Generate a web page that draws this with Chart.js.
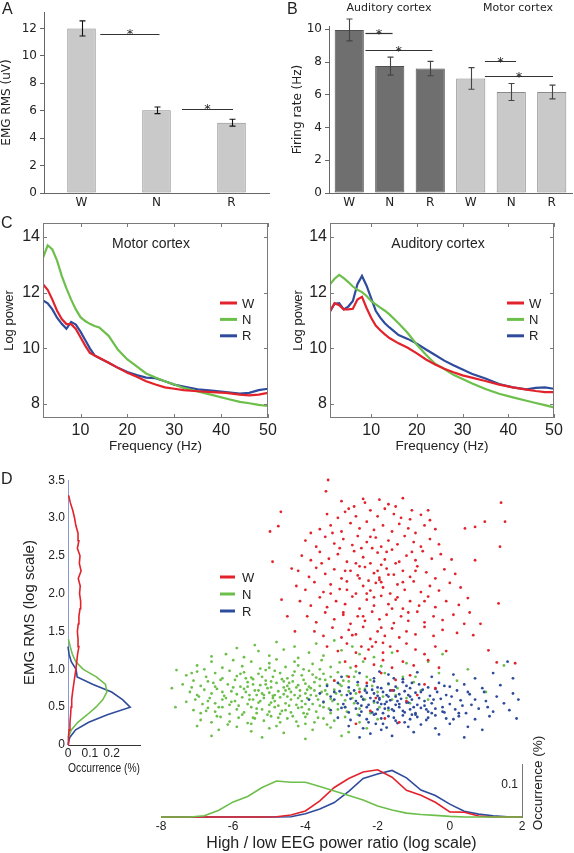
<!DOCTYPE html>
<html><head><meta charset="utf-8">
<script src="https://cdn.jsdelivr.net/npm/chart.js@4.4.1/dist/chart.umd.min.js"></script>
<style>
html,body{margin:0;padding:0;background:#fff;}
#page{position:relative;width:574px;height:853px;overflow:hidden;background:#fff;font-family:"Liberation Sans",Arial,sans-serif;color:#222;}
canvas{position:absolute;}
.t{position:absolute;white-space:nowrap;line-height:1;}
</style></head><body><div id="page">
<canvas id="cA" width="285" height="215" style="left:0;top:0"></canvas>
<canvas id="cB" width="289" height="215" style="left:285px;top:0"></canvas>
<canvas id="cC1" width="287" height="260" style="left:0;top:210px"></canvas>
<canvas id="cC2" width="287" height="260" style="left:287px;top:210px"></canvas>
<canvas id="cDL" width="170" height="330" style="left:0;top:470px"></canvas>
<canvas id="cDS" width="424" height="285" style="left:150px;top:470px"></canvas>
<canvas id="cDB" width="424" height="103" style="left:150px;top:750px"></canvas>
<div class="t" style="left:2px;top:1px;font-size:16px">A</div>
<div class="t" style="left:287px;top:1px;font-size:16px">B</div>
<div class="t" style="left:1px;top:215px;font-size:16px">C</div>
<div class="t" style="left:1px;top:471px;font-size:16px">D</div>
<div class="t" style="left:329px;top:1px;width:120px;text-align:center;font:11px 'DejaVu Sans',sans-serif">Auditory cortex</div>
<div class="t" style="left:458px;top:1px;width:120px;text-align:center;font:11px 'DejaVu Sans',sans-serif">Motor cortex</div>
<div class="t" style="left:91px;top:236px;width:120px;text-align:center;font-size:14px">Motor cortex</div>
<div class="t" style="left:378px;top:236px;width:120px;text-align:center;font-size:14px">Auditory cortex</div>
<div class="t" style="left:488px;top:775px;width:100px;height:16px;line-height:16px;text-align:center;font-size:13.5px;transform:rotate(-90deg);">Occurrence (%)</div>
</div>
<script>
// ---------- DATA ----------
const stateLabels = ['W', 'N', 'R'];
const emgMean = [12.0, 6.03, 5.13];
const emgErr = [0.55, 0.24, 0.25];
const emgSig = [[0.25, 1.04, 11.6], [1.34, 2.02, 6.1]];

const rateLabels = ['W', 'N', 'R', 'W', 'N', 'R'];
const rateGroup = ['Auditory', 'Auditory', 'Auditory', 'Motor', 'Motor', 'Motor'];
const rateMean = [9.96, 7.75, 7.6, 7.0, 6.17, 6.17];
const rateErr = [0.67, 0.55, 0.44, 0.66, 0.52, 0.42];
const rateSig = [[0.4, 1.07, 9.78], [0.4, 2.05, 8.72], [3.35, 4.12, 8.06], [3.35, 5.03, 7.14]];

const motorFreq = [2,3,4,5,6,7,8,9,10,11,12,13,14,16,18,20,22,24,26,28,30,32,35,38,41,44,46,48,50];
const motorW = [12.3,12.1,11.75,11.35,11.05,10.87,10.87,10.7,10.4,10.1,9.84,9.74,9.66,9.48,9.3,9.12,8.98,8.82,8.7,8.6,8.55,8.5,8.46,8.43,8.4,8.34,8.31,8.34,8.4];
const motorN = [13.25,13.7,13.55,13.15,12.6,12.15,11.75,11.4,11.12,10.98,10.88,10.8,10.75,10.45,9.95,9.6,9.35,9.1,8.95,8.82,8.7,8.58,8.45,8.33,8.2,8.08,8.03,7.97,7.93];
const motorR = [11.72,11.62,11.4,11.1,10.88,10.7,10.95,10.85,10.6,10.3,10.0,9.75,9.65,9.48,9.3,9.15,9.04,8.95,8.93,8.82,8.7,8.63,8.53,8.48,8.43,8.38,8.4,8.5,8.55];

const audFreq = [1,2,3,4,5,6,7,8,9,10,11,12,13,14,16,18,20,22,24,26,28,30,32,35,38,41,44,46,48,50];
const audW = [11.33,11.62,11.55,11.4,11.4,11.42,11.75,11.85,11.45,11.1,10.82,10.65,10.5,10.37,10.18,10.02,9.82,9.6,9.42,9.27,9.14,9.03,8.95,8.83,8.7,8.6,8.52,8.47,8.43,8.43];
const audN = [12.3,12.5,12.64,12.52,12.38,12.22,12.1,12.02,11.88,11.7,11.58,11.46,11.35,11.22,10.9,10.55,10.13,9.77,9.45,9.26,9.05,8.9,8.75,8.54,8.37,8.24,8.12,8.04,7.96,7.88];
const audR = [11.33,11.6,11.62,11.4,11.5,11.7,12.3,12.6,12.25,11.8,11.35,11.1,10.9,10.75,10.48,10.34,10.17,9.96,9.76,9.56,9.39,9.24,9.09,8.92,8.72,8.6,8.53,8.58,8.6,8.55];

const emgBins = [0,0.1,0.2,0.3,0.4,0.5,0.6,0.7,0.8,0.9,1.0,1.1,1.2,1.3,1.4,1.5,1.6,1.7,1.8,1.9,2.0,2.1,2.2,2.3,2.4,2.5,2.6,2.7,2.8,2.9,3.0,3.1,3.2,3.3,3.4];
const emgOccW = [0,0.002,0.005,0.009,0.012,0.014,0.017,0.021,0.026,0.031,0.036,0.04,0.044,0.05,0.046,0.043,0.047,0.05,0.055,0.058,0.053,0.056,0.047,0.06,0.052,0.055,0.043,0.05,0.046,0.036,0.03,0.022,0.011,0.003,null];
const emgOccN = [null,0.001,0.015,0.045,0.088,0.128,0.16,0.178,0.172,0.13,0.07,0.036,0.02,0.01,0.002,null,null,null,null,null,null,null,null,null,null,null,null,null,null,null,null,null,null,null,null];
const emgOccR = [0,0.008,0.035,0.095,0.18,0.285,0.25,0.2,0.115,0.042,0.037,0.015,0.005,0,null,null,null,null,null,null,null,null,null,null,null,null,null,null,null,null,null,null,null,null,null];

const ratioBins = [-8,-7.6,-7.2,-6.8,-6.4,-6,-5.6,-5.2,-4.8,-4.4,-4,-3.6,-3.2,-2.8,-2.4,-2,-1.6,-1.2,-0.8,-0.4,0,0.4,0.8,1.2,1.6,2];
const ratioOccN = [0,0,0,0.004,0.021,0.047,0.064,0.092,0.112,0.108,0.108,0.095,0.081,0.067,0.053,0.034,0.022,0.012,0.008,0.005,0.002,0,0,0,0,0];
const ratioOccW = [0,0,0,0,0,0,0,0,0.001,0.006,0.019,0.05,0.092,0.12,0.14,0.147,0.124,0.083,0.068,0.046,0.016,0.015,0.003,0,0,0];
const ratioOccR = [0,0,0,0,0,0,0,0,0,0.001,0.01,0.025,0.045,0.08,0.12,0.134,0.145,0.122,0.084,0.067,0.04,0.018,0.009,0.004,0.001,0];

const scatterW = [
[-3.0,3.22],[-2.4,3.25],[-2.35,3.2],[-1.95,3.24],[-1.7,3.18],[-1.3,3.26],[-2.8,3.12],[-1.05,3.1],
[-3.4,3.05],[-3.1,3.0],[-2.9,3.08],[-2.6,3.02],[-2.2,3.1],[-2.0,3.02],[-1.8,3.12],[-1.55,3.05],[-1.35,3.0],[-1.1,2.98],[-0.8,3.04],[-0.6,3.1],[-0.55,2.97],
[-3.6,2.85],[-3.3,2.9],[-3.0,2.82],[-2.75,2.93],[-2.5,2.86],[-2.3,2.95],[-2.1,2.84],[-1.85,2.9],[-1.6,2.82],[-1.4,2.92],[-1.15,2.86],[-0.95,2.8],[-0.7,2.9],[-0.4,2.85],[-3.85,2.8],
[-4.0,2.7],[-3.7,2.62],[-3.45,2.75],[-3.2,2.66],[-2.95,2.72],[-2.7,2.64],[-2.55,2.76],[-2.3,2.68],[-2.05,2.74],[-1.9,2.62],[-1.7,2.7],[-1.45,2.65],[-1.25,2.76],[-1.0,2.68],[-0.8,2.62],[-0.55,2.72],[-0.3,2.65],[-3.05,2.6],[-2.15,2.6],
[-4.1,2.5],[-3.85,2.44],[-3.6,2.55],[-3.35,2.46],[-3.1,2.52],[-2.85,2.42],[-2.65,2.56],[-2.4,2.48],[-2.2,2.4],[-2.0,2.54],[-1.8,2.45],[-1.6,2.58],[-1.4,2.42],[-1.2,2.5],[-0.95,2.44],[-0.75,2.56],[-0.5,2.46],[-0.25,2.52],[0.05,2.45],[-2.5,2.36],[-1.9,2.38],
[-4.2,2.3],[-3.9,2.22],[-3.7,2.34],[-3.45,2.26],[-3.2,2.32],[-3.0,2.2],[-2.75,2.3],[-2.55,2.24],[-2.35,2.35],[-2.1,2.27],[-1.95,2.21],[-1.75,2.33],[-1.55,2.25],[-1.3,2.3],[-1.1,2.22],[-0.9,2.36],[-0.65,2.28],[-0.4,2.2],[-0.15,2.32],[0.15,2.26],[-2.0,2.3],
[-4.25,2.1],[-4.0,2.05],[-3.75,2.15],[-3.5,2.02],[-3.3,2.12],[-3.05,2.06],[-2.85,2.16],[-2.6,2.0],[-2.4,2.1],[-2.2,2.04],[-2.05,2.14],[-1.85,2.08],[-1.65,2.0],[-1.45,2.12],[-1.25,2.05],[-1.0,2.16],[-0.8,2.02],[-0.55,2.1],[-0.3,2.04],[0.0,2.14],[0.3,2.08],[-1.95,2.18],[-2.25,2.17],
[-4.15,1.9],[-3.85,1.84],[-3.6,1.95],[-3.4,1.82],[-3.15,1.9],[-2.9,1.86],[-2.7,1.96],[-2.5,1.8],[-2.3,1.92],[-2.1,1.84],[-1.9,1.97],[-1.7,1.86],[-1.5,1.92],[-1.3,1.8],[-1.1,1.9],[-0.85,1.84],[-0.6,1.96],[-0.4,1.82],[-0.1,1.9],[0.25,1.85],[0.5,1.94],
[-3.95,1.7],[-3.7,1.62],[-3.45,1.75],[-3.2,1.66],[-2.95,1.72],[-2.75,1.6],[-2.55,1.7],[-2.35,1.64],[-2.15,1.76],[-1.95,1.66],[-1.75,1.72],[-1.55,1.61],[-1.35,1.7],[-1.15,1.64],[-0.9,1.76],[-0.7,1.62],[-0.45,1.7],[-0.2,1.65],[0.1,1.72],[0.4,1.6],
[-3.75,1.5],[-3.5,1.44],[-3.25,1.55],[-3.0,1.42],[-2.8,1.52],[-2.6,1.46],[-2.4,1.56],[-2.2,1.4],[-2.0,1.5],[-1.8,1.44],[-1.6,1.54],[-1.4,1.42],[-1.2,1.5],[-0.95,1.46],[-0.7,1.56],[-0.45,1.44],[-0.2,1.52],[0.2,1.48],
[-3.4,1.3],[-3.1,1.24],[-2.85,1.34],[-2.6,1.22],[-2.45,1.3],[-2.25,1.26],[-2.05,1.36],[-1.85,1.22],[-1.65,1.3],[-1.45,1.24],[-1.2,1.34],[-0.95,1.26],[-0.7,1.2],[-0.4,1.3],[-0.1,1.24],
[-2.9,1.1],[-2.6,1.04],[-2.35,1.14],[-2.1,1.06],[-1.85,1.12],[-1.6,1.02],[-1.3,1.1],[-1.0,1.05],[-0.6,1.12],[-0.3,1.02],
[-2.8,0.9],[-2.3,0.82],[-1.9,0.95],[-1.5,0.86],[-1.1,0.92],[-0.7,0.8],[-2.5,0.7],[-2.05,0.62],[-1.6,0.72],[-1.2,0.58],[-0.9,0.66],[-2.2,0.45],[-1.8,0.35],[-2.6,0.28],[-1.4,0.3],[-3.2,0.85],[-0.4,0.75],
[-2.5,2.2],[-2.3,2.0],[-2.1,1.95],[-1.9,2.15],[-1.7,2.25],[-2.6,2.4],[-1.5,2.4],[-2.9,2.3],[-1.6,1.8],[-2.4,1.7],[-2.7,1.45],[-1.9,1.55],[-1.45,1.95],[-2.45,2.6],[-2.2,2.75],[-1.75,2.55],[-1.3,2.15],[-3.3,2.0],[-3.55,2.4],[-0.95,2.3],[-0.7,1.9],[-1.15,1.75],[-2.95,1.75],[-2.15,1.3],[-1.05,2.55],[-3.25,2.8],[-2.65,3.15],[-1.5,3.15],[-1.85,1.35],[-2.85,2.05],
[-3.37,3.5],[-3.43,3.35],[-4.68,3.08],[-4.75,2.89],[-4.98,2.82],[-4.91,2.42],[-4.38,2.33],[1.42,3.2],[1.53,2.95],[0.97,2.95],[0.7,2.88],[0.42,2.86],[1.39,2.62],[0.7,2.44],[1.35,1.87],[1.07,1.25],[1.3,1.09],[1.81,1.08],[-4.66,1.92],[-4.29,1.5],[0.65,1.45],[0.55,1.75],[0.85,1.6],[-4.5,1.7]
];
const scatterN = [
[-5.4,1.32],[-4.8,1.36],[-4.3,1.3],[-3.7,1.34],[-3.2,1.38],[-2.7,1.3],[-5.9,1.28],
[-6.2,1.2],[-5.7,1.16],[-5.3,1.24],[-5.0,1.18],[-4.6,1.26],[-4.2,1.15],[-3.9,1.22],[-3.5,1.18],[-3.0,1.25],[-2.5,1.2],[-2.1,1.16],[-1.6,1.22],[-6.6,1.17],
[-7.0,1.05],[-6.6,1.1],[-6.3,1.02],[-6.0,1.12],[-5.75,1.04],[-5.5,1.1],[-5.25,1.01],[-5.0,1.08],[-4.8,1.13],[-4.55,1.03],[-4.3,1.1],[-4.05,1.0],[-3.8,1.07],[-3.55,1.12],[-3.3,1.03],[-3.05,1.09],[-2.75,1.02],[-2.4,1.1],[-1.9,1.04],[-1.2,1.08],[-0.6,1.1],
[-7.3,0.92],[-7.0,0.97],[-6.75,0.9],[-6.5,0.95],[-6.3,0.88],[-6.1,0.98],[-5.9,0.91],[-5.7,0.96],[-5.5,0.89],[-5.3,0.94],[-5.1,0.99],[-4.9,0.9],[-4.7,0.95],[-4.5,0.88],[-4.3,0.97],[-4.1,0.92],[-3.9,0.98],[-3.7,0.89],[-3.5,0.94],[-3.3,0.9],[-3.1,0.96],[-2.85,0.91],[-2.6,0.97],[-2.3,0.9],[-1.8,0.95],[-1.3,0.9],
[-7.4,0.8],[-7.1,0.85],[-6.9,0.78],[-6.7,0.84],[-6.5,0.77],[-6.35,0.86],[-6.15,0.8],[-5.95,0.86],[-5.8,0.77],[-5.6,0.83],[-5.45,0.87],[-5.25,0.79],[-5.1,0.85],[-4.95,0.76],[-4.8,0.82],[-4.65,0.87],[-4.5,0.78],[-4.35,0.84],[-4.2,0.79],[-4.05,0.86],[-3.9,0.77],[-3.75,0.83],[-3.6,0.87],[-3.4,0.8],[-3.2,0.85],[-3.0,0.78],[-2.8,0.84],[-2.55,0.79],[-2.2,0.86],[-1.7,0.8],[-1.0,0.83],
[-7.2,0.7],[-7.0,0.66],[-6.8,0.73],[-6.6,0.68],[-6.45,0.74],[-6.25,0.65],[-6.05,0.71],[-5.9,0.67],[-5.7,0.74],[-5.55,0.66],[-5.4,0.72],[-5.2,0.68],[-5.05,0.75],[-4.9,0.65],[-4.75,0.71],[-4.6,0.67],[-4.45,0.74],[-4.3,0.66],[-4.15,0.72],[-4.0,0.68],[-3.85,0.75],[-3.7,0.65],[-3.55,0.7],[-3.4,0.67],[-3.2,0.73],[-3.0,0.66],[-2.8,0.71],[-2.6,0.68],[-2.35,0.74],[-2.0,0.7],[-1.5,0.66],[-0.8,0.72],[-5.0,0.69],[-4.4,0.7],
[-7.3,0.57],[-7.05,0.6],[-6.85,0.54],[-6.65,0.62],[-6.5,0.55],[-6.3,0.6],[-6.1,0.53],[-5.95,0.58],[-5.75,0.63],[-5.6,0.54],[-5.45,0.6],[-5.3,0.56],[-5.15,0.62],[-5.0,0.53],[-4.85,0.58],[-4.7,0.63],[-4.55,0.55],[-4.4,0.6],[-4.25,0.53],[-4.1,0.58],[-3.95,0.62],[-3.8,0.54],[-3.65,0.6],[-3.5,0.56],[-3.3,0.61],[-3.1,0.54],[-2.9,0.59],[-2.65,0.55],[-2.4,0.61],[-2.1,0.56],[-1.6,0.6],[-1.1,0.55],
[-7.1,0.46],[-6.9,0.42],[-6.7,0.49],[-6.5,0.44],[-6.3,0.5],[-6.1,0.41],[-5.9,0.47],[-5.7,0.43],[-5.5,0.5],[-5.35,0.42],[-5.2,0.47],[-5.0,0.44],[-4.85,0.5],[-4.7,0.41],[-4.55,0.46],[-4.4,0.43],[-4.2,0.49],[-4.05,0.42],[-3.9,0.47],[-3.7,0.44],[-3.5,0.5],[-3.3,0.42],[-3.1,0.47],[-2.85,0.44],[-2.5,0.48],[-2.2,0.42],[-1.7,0.46],
[-6.9,0.33],[-6.6,0.3],[-6.35,0.37],[-6.1,0.31],[-5.85,0.36],[-5.6,0.29],[-5.4,0.35],[-5.15,0.32],[-4.95,0.38],[-4.7,0.3],[-4.5,0.35],[-4.25,0.31],[-4.0,0.37],[-3.75,0.3],[-3.5,0.35],[-3.2,0.32],[-2.9,0.37],[-2.5,0.3],[-2.0,0.34],
[-6.4,0.2],[-5.9,0.24],[-5.5,0.18],[-5.0,0.22],[-4.6,0.16],[-4.2,0.25],[-3.8,0.2],[-3.3,0.23],[-2.8,0.17],[-2.3,0.22],[-7.0,0.25],
[-5.2,0.1],[-4.0,0.08],[-3.0,0.12],[-6.6,0.12],
[-4.9,0.62],[-4.6,0.76],[-5.3,0.72],[-4.2,0.62],[-4.75,0.52],[-5.1,0.8],[-4.45,0.82],[-3.95,0.73],[-5.6,0.77],[-4.0,0.54],[-3.6,0.78],[-5.25,0.58],
[-6.2,0.62],[-5.85,0.52],[-5.65,0.7],[-5.35,0.48],[-5.15,0.66],[-4.95,0.56],[-4.65,0.45],[-4.5,0.64],[-4.25,0.76],[-4.1,0.5],[-3.85,0.66],[-3.6,0.52],[-3.45,0.72],[-3.25,0.58],[-3.05,0.8],[-2.9,0.5],[-2.7,0.62],[-2.5,0.74],[-6.0,0.76],[-6.4,0.5],[-6.7,0.58],[-6.95,0.64],[-7.15,0.76],[-5.8,0.94],[-5.45,0.8],[-5.2,0.9],[-4.85,0.98],[-4.6,0.84],[-4.35,0.92],[-4.0,0.81],[-3.8,0.93],[-3.45,0.86],[-3.15,0.68],[-5.75,0.4],[-5.45,0.36],[-5.05,0.4],[-4.75,0.36],[-4.35,0.38],[-3.95,0.41],[-3.65,0.36],[-3.35,0.48],[-6.45,0.38],[-6.75,0.45],[-6.05,0.57],[-5.55,0.6],[-4.95,0.84],[-4.55,0.72],[-4.15,0.65],[-3.75,0.72],[-5.35,0.66],[-4.85,0.66],[-4.45,0.52],[-5.65,0.88],[-6.3,0.7],[-6.55,0.82],[-5.0,1.02],[-4.2,1.05],[-3.6,1.0],[-6.8,1.0],[-5.5,0.28],[-4.8,0.25],[-4.0,0.28],[-3.4,0.27],[-6.15,0.27],[-2.95,0.85],[-2.65,0.9],[-2.35,0.6],[-2.15,0.78],[-1.85,0.64],[-1.45,0.75],[-1.2,0.62],[-0.95,0.9],[-0.6,0.6],[-2.55,0.4],[-1.95,0.5],
[-7.57,0.99],[-7.15,0.95],[-7.7,0.75],[-7.6,0.5],[-0.3,0.95],[0.2,0.85],[0.5,1.0],[-0.2,1.2],[1.0,0.7],[1.5,1.05]
];
const scatterR = [
[-3.0,0.9],[-2.5,0.95],[-2.1,0.88],[-1.7,0.93],[-1.3,0.87],[-0.9,0.96],[-0.5,0.9],[0.1,0.93],[0.7,0.88],[-1.95,0.97],
[-3.4,0.78],[-3.1,0.82],[-2.8,0.76],[-2.55,0.83],[-2.3,0.78],[-2.1,0.84],[-1.9,0.75],[-1.7,0.81],[-1.5,0.77],[-1.3,0.83],[-1.1,0.75],[-0.85,0.8],[-0.6,0.76],[-0.3,0.82],[0.0,0.77],[0.4,0.8],[0.9,0.75],[1.4,0.79],
[-3.6,0.68],[-3.3,0.64],[-3.05,0.71],[-2.85,0.66],[-2.65,0.72],[-2.45,0.64],[-2.3,0.69],[-2.15,0.73],[-2.0,0.65],[-1.85,0.7],[-1.7,0.64],[-1.55,0.72],[-1.4,0.67],[-1.25,0.71],[-1.1,0.64],[-0.95,0.69],[-0.75,0.73],[-0.55,0.65],[-0.35,0.7],[-0.1,0.66],[0.2,0.72],[0.55,0.67],[0.95,0.7],[1.3,0.64],[1.75,0.68],
[-3.5,0.57],[-3.2,0.6],[-2.95,0.54],[-2.75,0.61],[-2.55,0.55],[-2.4,0.6],[-2.25,0.53],[-2.1,0.58],[-1.95,0.62],[-1.8,0.54],[-1.65,0.59],[-1.5,0.53],[-1.35,0.61],[-1.2,0.56],[-1.05,0.6],[-0.9,0.53],[-0.7,0.58],[-0.5,0.55],[-0.25,0.61],[0.0,0.54],[0.3,0.59],[0.6,0.53],[1.0,0.58],[1.5,0.55],[-1.75,0.57],[-2.0,0.56],
[-3.3,0.46],[-3.0,0.49],[-2.8,0.43],[-2.6,0.48],[-2.45,0.44],[-2.3,0.5],[-2.15,0.43],[-2.0,0.47],[-1.85,0.42],[-1.7,0.49],[-1.55,0.45],[-1.4,0.5],[-1.25,0.43],[-1.1,0.47],[-0.95,0.42],[-0.8,0.49],[-0.6,0.44],[-0.4,0.48],[-0.15,0.43],[0.15,0.47],[0.45,0.42],[0.8,0.48],[1.2,0.44],[1.65,0.46],
[-3.1,0.36],[-2.75,0.33],[-2.5,0.39],[-2.3,0.34],[-2.1,0.4],[-1.9,0.35],[-1.7,0.38],[-1.5,0.32],[-1.3,0.39],[-1.1,0.34],[-0.9,0.37],[-0.65,0.33],[-0.4,0.39],[-0.1,0.35],[0.25,0.38],[0.7,0.34],[1.1,0.38],
[-2.8,0.25],[-2.4,0.22],[-2.05,0.28],[-1.75,0.23],[-1.45,0.29],[-1.15,0.24],[-0.8,0.27],[-0.4,0.22],[0.0,0.28],[0.5,0.24],[-1.9,0.2],
[-2.2,0.15],[-1.6,0.12],[-1.0,0.17],[-0.3,0.14],[0.4,0.1],[-2.5,0.1],
[-2.45,0.52],[-2.2,0.62],[-2.05,0.41],[-1.9,0.54],[-1.75,0.66],[-1.6,0.47],[-1.45,0.58],[-1.3,0.45],[-1.15,0.66],[-1.0,0.5],[-0.85,0.62],[-0.65,0.47],[-0.45,0.6],[-0.2,0.5],[0.05,0.64],[-2.35,0.72],[-2.0,0.76],[-1.65,0.72],[-1.2,0.78],[-0.8,0.7],[-0.4,0.74],[-2.6,0.58],[-2.9,0.5],[-3.2,0.7],[-1.55,0.36],[-1.25,0.3],[-0.95,0.4],[-0.6,0.36],[-2.25,0.3],[-1.85,0.28],[-0.2,0.44],[0.35,0.52],[0.7,0.6],[1.05,0.5],[0.5,0.7],[-1.05,0.82],[-1.55,0.88],[-2.75,0.68],[-0.15,0.78],[0.25,0.42],[-1.4,0.54],[-1.8,0.48],[-2.1,0.68],[-0.7,0.52],[-1.15,0.56],[-1.95,0.6],[-1.5,0.64],[-1.05,0.4],[-0.5,0.42],[0.1,0.34],
[1.9,0.6],[1.75,0.88],[1.2,0.95],[1.85,0.35],[0.9,0.2],[-3.9,0.6],[1.6,1.1]
];

// ---------- STYLE ----------
const FAB = '"DejaVu Sans", Verdana, sans-serif';
const FCD = '"Liberation Sans", Arial, sans-serif';
const RED = '#e3232b', GREEN = '#6dbf4b', BLUE = '#2f4c9c';
const stateColors = [RED, GREEN, BLUE];
const groupFill = {Auditory: '#6f6f6f', Motor: '#c9c9c9'};
const groupEdge = {Auditory: '#505050', Motor: '#8a8a8a'};
Chart.defaults.color = '#222';

function base(extra) {
  return Object.assign({animation: false, responsive: false, devicePixelRatio: 1, events: []}, extra);
}
function noLegend() { return {legend: {display: false}, tooltip: {enabled: false}}; }

function makeErrors(errs, color) {
  return {id: 'errs', afterDatasetsDraw(chart) {
    const ctx = chart.ctx, y = chart.scales.y, meta = chart.getDatasetMeta(0);
    const vals = chart.data.datasets[0].data;
    ctx.save(); ctx.strokeStyle = color; ctx.lineWidth = 1.1;
    meta.data.forEach((bar, j) => {
      const px = Math.round(bar.x) + 0.5;
      const t = y.getPixelForValue(vals[j] + errs[j]), b = y.getPixelForValue(vals[j] - errs[j]);
      ctx.beginPath();
      ctx.moveTo(px, t); ctx.lineTo(px, b);
      ctx.moveTo(px - 3, t); ctx.lineTo(px + 3, t);
      ctx.moveTo(px - 3, b); ctx.lineTo(px + 3, b);
      ctx.stroke();
    });
    ctx.restore();
  }};
}
function makeSig(lines, starUp) {
  return {id: 'sig', afterDatasetsDraw(chart) {
    const ctx = chart.ctx, x = chart.scales.x, y = chart.scales.y;
    ctx.save(); ctx.strokeStyle = '#333'; ctx.fillStyle = '#222'; ctx.lineWidth = 1.2;
    ctx.font = '13px ' + FAB; ctx.textAlign = 'center'; ctx.textBaseline = 'alphabetic';
    lines.forEach(([a, b, v]) => {
      const x1 = x.getPixelForValue(a), x2 = x.getPixelForValue(b);
      const py = Math.round(y.getPixelForValue(v)) + 0.5;
      ctx.beginPath(); ctx.moveTo(x1, py); ctx.lineTo(x2, py); ctx.stroke();
      ctx.fillText('*', (x1 + x2) / 2, py + starUp);
    });
    ctx.restore();
  }};
}
const boxPlugin = {id: 'mbox', afterDraw(chart) {
  const ctx = chart.ctx, a = chart.chartArea, x = chart.scales.x, y = chart.scales.y;
  ctx.save(); ctx.strokeStyle = '#7a7a7a'; ctx.lineWidth = 1;
  ctx.strokeRect(Math.round(a.left) + 0.5, Math.round(a.top) + 0.5, Math.round(a.right - a.left) - 1, Math.round(a.bottom - a.top) - 1);
  ctx.beginPath();
  x.ticks.forEach(t => { const p = Math.round(x.getPixelForValue(t.value)) + 0.5;
    ctx.moveTo(p, a.bottom); ctx.lineTo(p, a.bottom - 4); ctx.moveTo(p, a.top); ctx.lineTo(p, a.top + 4); });
  y.ticks.forEach(t => { const p = Math.round(y.getPixelForValue(t.value)) + 0.5;
    ctx.moveTo(a.left, p); ctx.lineTo(a.left + 4, p); ctx.moveTo(a.right, p); ctx.lineTo(a.right - 4, p); });
  ctx.stroke(); ctx.restore();
}};
function makeLegend(cfg) {
  return {id: 'ilegend', afterDraw(chart) {
    const ctx = chart.ctx, a = chart.chartArea;
    ctx.save(); ctx.font = cfg.font; ctx.textBaseline = 'middle'; ctx.fillStyle = '#222';
    stateLabels.forEach((lab, i) => {
      const x = a.left + cfg.x, y = a.top + cfg.y + i * cfg.dy;
      ctx.strokeStyle = stateColors[i]; ctx.lineWidth = cfg.lw;
      ctx.beginPath(); ctx.moveTo(x, y); ctx.lineTo(x + cfg.len, y); ctx.stroke();
      ctx.fillText(lab, x + cfg.len + cfg.gap, y + 1);
    });
    ctx.restore();
  }};
}

// ---------- A ----------
new Chart(document.getElementById('cA'), {
  type: 'bar',
  data: {labels: stateLabels, datasets: [{data: emgMean, backgroundColor: '#c9c9c9', borderColor: '#8a8a8a', borderWidth: 1, borderSkipped: false, barPercentage: 0.38, categoryPercentage: 1}]},
  options: base({
    layout: {padding: {left: 0, top: 12, right: 16, bottom: 0}},
    plugins: noLegend(),
    scales: {
      x: {grid: {display: false, drawTicks: false}, border: {color: '#666'}, ticks: {font: {family: FAB, size: 12}, color: '#222', padding: 3}, afterFit(s) { s.height = 22; }},
      y: {min: 0, max: 13.2, grid: {drawOnChartArea: false, drawTicks: true, tickLength: 4, color: '#666'}, border: {color: '#666'},
          ticks: {stepSize: 2, includeBounds: false, font: {family: FAB, size: 12}, color: '#222', padding: 3},
          title: {display: true, text: 'EMG RMS (uV)', font: {family: FAB, size: 12}, color: '#222', padding: {top: 0, bottom: 0}},
          afterFit(s) { s.width = 44; }}
    }
  }),
  plugins: [makeErrors(emgErr, '#111'), makeSig(emgSig, 3)]
});

// ---------- B ----------
new Chart(document.getElementById('cB'), {
  type: 'bar',
  data: {labels: rateLabels, datasets: [{data: rateMean,
    backgroundColor: rateGroup.map(g => groupFill[g]), borderColor: rateGroup.map(g => groupEdge[g]),
    borderWidth: 1, borderSkipped: false, barPercentage: 0.72, categoryPercentage: 1}]},
  options: base({
    layout: {padding: {left: 0, top: 26, right: 2, bottom: 0}},
    plugins: noLegend(),
    scales: {
      x: {grid: {display: false, drawTicks: false}, border: {color: '#666'}, ticks: {font: {family: FAB, size: 12}, color: '#222', padding: 3}, afterFit(s) { s.height = 22; }},
      y: {min: 0, max: 10.2, grid: {drawOnChartArea: false, drawTicks: true, tickLength: 4, color: '#666'}, border: {color: '#666'},
          ticks: {stepSize: 2, includeBounds: false, font: {family: FAB, size: 12}, color: '#222', padding: 3},
          title: {display: true, text: 'Firing rate (Hz)', font: {family: FAB, size: 12}, color: '#222', padding: {top: 6, bottom: 0}},
          afterFit(s) { s.width = 44; }}
    }
  }),
  plugins: [makeErrors(rateErr, '#444'), makeSig(rateSig, 4)]
});

// ---------- C ----------
function psdChart(id, freqs, w, n, r, xmin, padRight, titlePad) {
  const mk = (vals, i) => ({label: stateLabels[i], data: freqs.map((f, k) => ({x: f, y: vals[k]})),
    borderColor: stateColors[i], borderWidth: 2.2, pointRadius: 0, tension: 0, fill: false});
  return new Chart(document.getElementById(id), {
    type: 'line',
    data: {datasets: [mk(w, 0), mk(n, 1), mk(r, 2)]},
    options: base({
      layout: {padding: {left: 0, top: 13, right: padRight, bottom: 0}},
      plugins: noLegend(),
      scales: {
        x: {type: 'linear', min: xmin, max: 50, grid: {display: false, drawTicks: false}, border: {display: false},
            ticks: {stepSize: 10, includeBounds: false, font: {family: FCD, size: 16}, color: '#222', padding: 3},
            title: {display: true, text: 'Frequency (Hz)', font: {family: FCD, size: 13.5}, color: '#222', padding: {top: 0, bottom: 16}},
            afterFit(s) { s.height = 52; }},
        y: {min: 7.5, max: 14.5, grid: {display: false, drawTicks: false}, border: {display: false},
            ticks: {stepSize: 2, includeBounds: false, font: {family: FCD, size: 16}, color: '#222', padding: 3},
            title: {display: true, text: 'Log power', font: {family: FCD, size: 13}, color: '#222', padding: {top: titlePad, bottom: 0}},
            afterFit(s) { s.width = 43; }}
      }
    }),
    plugins: [boxPlugin, makeLegend({x: 177, y: 80, dy: 16.4, len: 17, gap: 5, lw: 3, font: '13px ' + FCD})]
  });
}
psdChart('cC1', motorFreq, motorW, motorN, motorR, 2, 19, 2);
psdChart('cC2', audFreq, audW, audN, audR, 1, 20, 4);

// ---------- D: left histogram ----------
const histLine = (bins, occ, i, horizontal) => ({
  label: stateLabels[i],
  data: bins.map((b, k) => occ[k] === null ? null : (horizontal ? {x: occ[k], y: b} : {x: b, y: occ[k]})).filter(p => p !== null),
  borderColor: stateColors[i], borderWidth: 1.6, pointRadius: 0, showLine: true, tension: 0, fill: false, clip: false});
new Chart(document.getElementById('cDL'), {
  type: 'scatter',
  data: {datasets: [histLine(emgBins, emgOccW, 0, true), histLine(emgBins, emgOccN, 1, true), histLine(emgBins, emgOccR, 2, true)]},
  options: base({
    layout: {padding: {left: 0, top: 10, right: 30, bottom: 0}},
    plugins: noLegend(),
    scales: {
      x: {type: 'linear', min: 0, max: 0.33, grid: {display: false, drawTicks: false}, border: {color: '#333'},
          ticks: {stepSize: 0.1, includeBounds: false, font: {family: FCD, size: 12}, color: '#222', padding: 1,
                  callback: v => (v > 0.25 ? '' : v)},
          title: {display: true, text: 'Occurrence (%)', font: {family: FCD, size: 13.5}, color: '#222', padding: {top: 0, bottom: 24}},
          afterFit(s) { s.height = 55; }},
      y: {min: 0, max: 3.5, grid: {display: false, drawTicks: false}, border: {color: '#8c98d4'},
          ticks: {stepSize: 0.5, font: {family: FCD, size: 12}, color: '#222', padding: 3},
          title: {display: true, text: 'EMG RMS (log scale)', font: {family: FCD, size: 15}, color: '#222', padding: {top: 21, bottom: 0}},
          afterFit(s) { s.width = 68; }}
    }
  })
});

// ---------- D: scatter ----------
const scat = (pts, i, order) => ({label: stateLabels[i], data: pts.map(([x, y]) => ({x, y})),
  backgroundColor: stateColors[i], borderWidth: 0, pointRadius: 1.4, order, clip: false});
new Chart(document.getElementById('cDS'), {
  type: 'scatter',
  data: {datasets: [scat(scatterW, 0, 0), scat(scatterN, 1, 2), scat(scatterR, 2, 1)]},
  options: base({
    layout: {padding: {left: 11, top: 10, right: 52, bottom: 10}},
    plugins: noLegend(),
    scales: {
      x: {type: 'linear', min: -8, max: 2, display: false},
      y: {min: 0, max: 3.5, display: false}
    }
  }),
  plugins: [makeLegend({x: 59, y: 97, dy: 17, len: 15, gap: 7, lw: 3, font: '13px ' + FCD})]
});

// ---------- D: bottom histogram ----------
new Chart(document.getElementById('cDB'), {
  type: 'scatter',
  data: {datasets: [histLine(ratioBins, ratioOccN, 1, false), histLine(ratioBins, ratioOccW, 0, false), histLine(ratioBins, ratioOccR, 2, false)]},
  options: base({
    layout: {padding: {left: 11, top: 14, right: 0, bottom: 0}},
    plugins: noLegend(),
    scales: {
      x: {type: 'linear', min: -8, max: 2, grid: {display: false, drawTicks: false}, border: {display: false},
          ticks: {stepSize: 2, font: {family: FCD, size: 12}, color: '#222', padding: 2},
          title: {display: true, text: 'High / low EEG power ratio (log scale)', font: {family: FCD, size: 16}, color: '#222', padding: {top: 0, bottom: 0}},
          afterFit(s) { s.height = 36; }},
      y: {position: 'right', min: 0, max: 0.165, grid: {display: false, drawTicks: false}, border: {color: '#777'},
          ticks: {stepSize: 0.1, includeBounds: false, mirror: true, padding: -4, font: {family: FCD, size: 12}, color: '#222',
                  callback: v => (v === 0 ? '' : v)},
          afterFit(s) { s.width = 52; }}
    }
  })
});
</script></body></html>
